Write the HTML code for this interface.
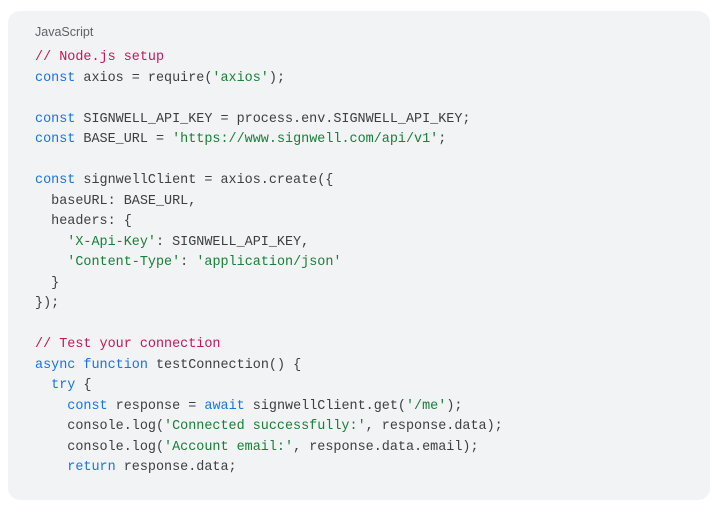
<!DOCTYPE html>
<html><head><style>
body{margin:0;background:#fff;width:721px;height:512px;overflow:hidden}
.box{position:absolute;left:8px;top:11px;width:702px;height:489px;background:#f1f3f4;border-radius:12px}
.lab{position:absolute;left:35px;top:25px;font:12.5px "Liberation Sans",sans-serif;color:#5f6368}
pre{position:absolute;left:35px;top:48px;margin:0;font:13.45px/20.5px "Liberation Mono",monospace;color:#3c4043}
.c{color:#c2185b}.k{color:#1a73e8}.s{color:#188038}
</style></head><body>
<div class="box"></div>
<div class="lab">JavaScript</div>
<pre><span class="c">// Node.js setup</span>
<span class="k">const</span> axios = require(<span class="s">'axios'</span>);

<span class="k">const</span> SIGNWELL_API_KEY = process.env.SIGNWELL_API_KEY;
<span class="k">const</span> BASE_URL = <span class="s">'https://www.signwell.com/api/v1'</span>;

<span class="k">const</span> signwellClient = axios.create({
  baseURL: BASE_URL,
  headers: {
    <span class="s">'X-Api-Key'</span>: SIGNWELL_API_KEY,
    <span class="s">'Content-Type'</span>: <span class="s">'application/json'</span>
  }
});

<span class="c">// Test your connection</span>
<span class="k">async</span> <span class="k">function</span> testConnection() {
  <span class="k">try</span> {
    <span class="k">const</span> response = <span class="k">await</span> signwellClient.get(<span class="s">'/me'</span>);
    console.log(<span class="s">'Connected successfully:'</span>, response.data);
    console.log(<span class="s">'Account email:'</span>, response.data.email);
    <span class="k">return</span> response.data;</pre>
</body></html>
